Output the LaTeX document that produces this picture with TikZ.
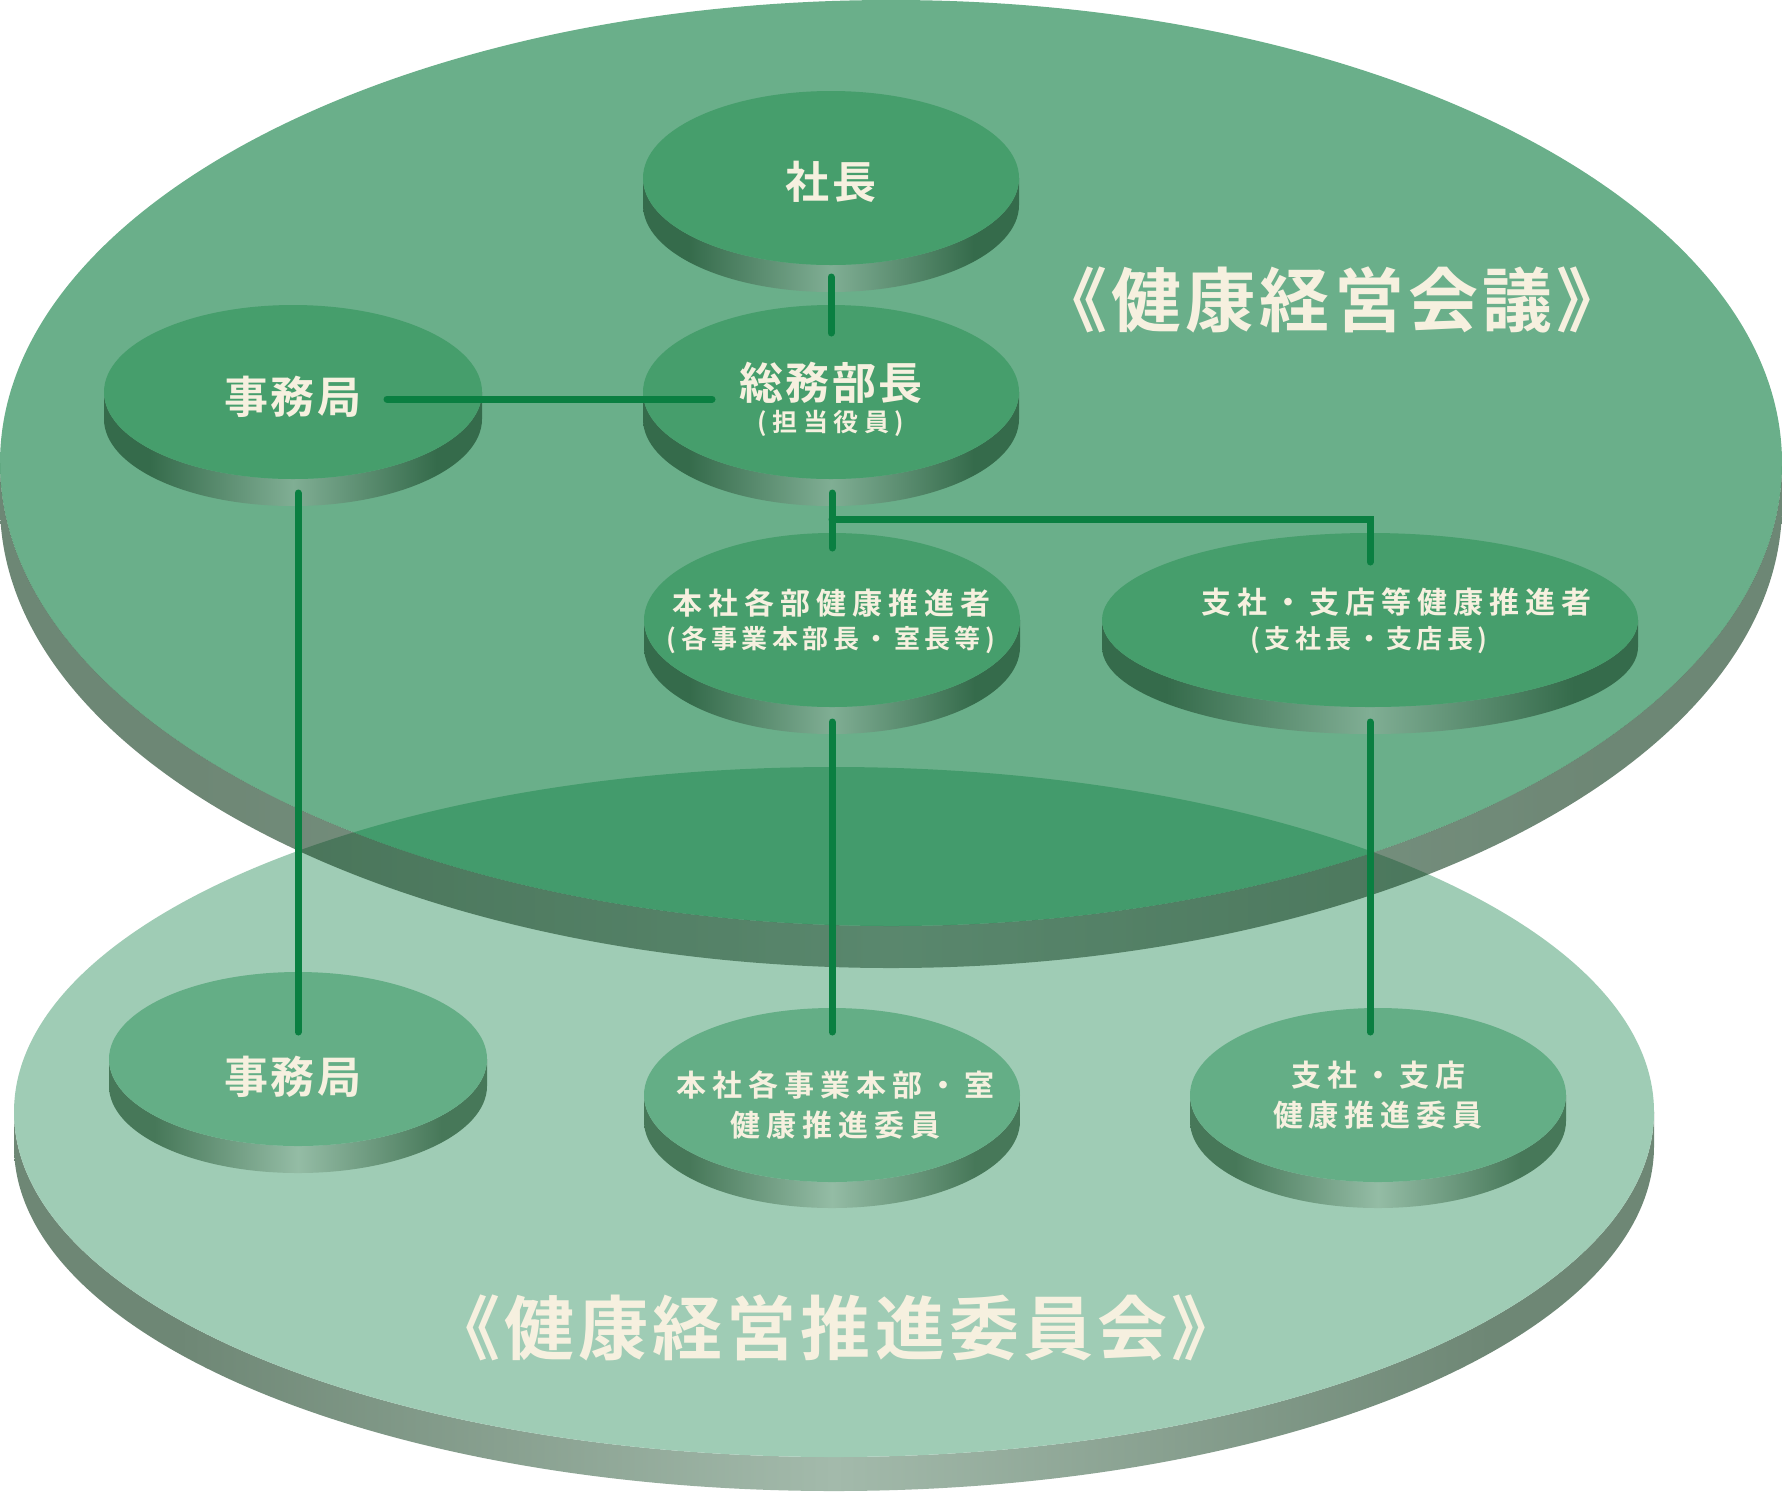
\documentclass[tikz,border=0pt]{standalone}
\usepackage{tikz}
\usepackage{fontspec}
\newfontfamily\jpbig{Noto Sans CJK JP Bold}[LetterSpace=5]
\newfontfamily\jpmid{Noto Sans CJK JP Bold}[LetterSpace=20]
\newfontfamily\jpsub{Noto Sans CJK JP Bold}[LetterSpace=22]
\newfontfamily\jpsmall{Noto Sans CJK JP Bold}[LetterSpace=17]
\newfontfamily\jptitle{Noto Sans CJK JP Bold}[LetterSpace=6]

\definecolor{cream}{HTML}{F6F0DF}
\definecolor{linegreen}{HTML}{0A7F41}
\definecolor{upface}{HTML}{469E6C}
\definecolor{upsidedark}{HTML}{356B4B}
\definecolor{upsidelight}{HTML}{80AE94}
\definecolor{loface}{HTML}{64AE86}
\definecolor{losidedark}{HTML}{477859}
\definecolor{losidelight}{HTML}{94BCA5}
\definecolor{topface}{HTML}{077B3C}
\definecolor{topsidedark}{HTML}{0D3719}
\definecolor{topsidelight}{HTML}{2C5A3E}
\definecolor{baseface}{HTML}{9FCCB5}
\definecolor{basesidedark}{HTML}{6E8775}
\definecolor{basesidelight}{HTML}{A3BAAB}

\pgfdeclarehorizontalshading{upside}{100bp}{color(0bp)=(upsidedark); color(31bp)=(upsidedark); color(50bp)=(upsidelight); color(69bp)=(upsidedark); color(100bp)=(upsidedark)}
\pgfdeclarehorizontalshading{loside}{100bp}{color(0bp)=(losidedark); color(31bp)=(losidedark); color(50bp)=(losidelight); color(69bp)=(losidedark); color(100bp)=(losidedark)}
\pgfdeclarehorizontalshading{topside}{100bp}{color(0bp)=(topsidedark); color(30bp)=(topsidedark); color(50bp)=(topsidelight); color(70bp)=(topsidedark); color(100bp)=(topsidedark)}
\pgfdeclarehorizontalshading{baseside}{100bp}{color(0bp)=(basesidedark); color(30bp)=(basesidedark); color(50bp)=(basesidelight); color(70bp)=(basesidedark); color(100bp)=(basesidedark)}

% #1 kind, #2 cx, #3 cy, #4 rx, #5 ry, #6 depth
\newcommand{\drawdisc}[6]{%
  \shade[#1 side] (#2-#4,#3) -- (#2-#4,#3+#6)
    arc[start angle=180, end angle=0, x radius=#4, y radius=#5]
    -- (#2+#4,#3)
    arc[start angle=0, end angle=180, x radius=#4, y radius=#5] -- cycle;
  \fill[#1 face] (#2,#3) ellipse[x radius=#4, y radius=#5];
}

\begin{document}
\begin{tikzpicture}[x=0.5pt, y=-0.5pt,
    base side/.style={shading=baseside},
    base face/.style={fill=baseface},
    top side/.style={shading=topside, fill opacity=0.6},
    top face/.style={fill=topface, fill opacity=0.6},
    upper side/.style={shading=upside},
    upper face/.style={fill=upface},
    lower side/.style={shading=loside},
    lower face/.style={fill=loface},
    lblbig/.style={text=cream, inner sep=0pt, font=\jpbig\fontsize{22}{26}\selectfont},
    lblmid/.style={text=cream, inner sep=0pt, align=center, font=\jpmid\fontsize{15}{20}\selectfont},
    lblsub/.style={text=cream, inner sep=0pt, font=\jpsub\fontsize{12.5}{14}\selectfont},
    lblsmall/.style={text=cream, inner sep=0pt, font=\jpsmall\fontsize{13}{16}\selectfont},
    headline/.style={text=cream, inner sep=0pt, font=\jptitle\fontsize{35}{40}\selectfont},
    joinline/.style={draw=linegreen, line width=3.5pt, line cap=round}]

  \fill[white] (0,0) rectangle (1782,1495);
  \useasboundingbox (0,0) rectangle (1782,1495);

  % Plates
  \drawdisc{base}{834}{1112}{820}{345}{34}
  \drawdisc{lower}{298}{1059}{189}{87}{27}
  \drawdisc{lower}{832}{1095}{188}{87}{26}
  \drawdisc{lower}{1378}{1095}{188}{87}{26}
  \drawdisc{top}{891}{463}{891}{463}{42}

  % Discs
  \drawdisc{upper}{831}{178}{188}{87}{27}
  \drawdisc{upper}{831}{392}{188}{87}{27}
  \drawdisc{upper}{293}{392}{189}{87}{27}
  \drawdisc{upper}{832}{620}{188}{87}{27}
  \drawdisc{upper}{1370}{620}{268}{87}{27}

  % Line ends
  \coordinate (shacho-foot) at (831,277);
  \coordinate (somu-head) at (831,333);
  \coordinate (somu-side) at (712,399);
  \coordinate (jimu-side) at (387,399);
  \coordinate (somu-foot) at (832,493);
  \coordinate (fork) at (832,519);
  \coordinate (honsha-head) at (832,548);
  \coordinate (shisha-head) at (1370,562);
  \coordinate (jimu-foot) at (298,493);
  \coordinate (jimu2-head) at (298,1032);
  \coordinate (honsha-foot) at (832,722);
  \coordinate (honsha2-head) at (832,1032);
  \coordinate (shisha-foot) at (1370,722);
  \coordinate (shisha2-head) at (1370,1032);

  % Links
  \draw[joinline] (shacho-foot) -- (somu-head);
  \draw[joinline] (jimu-side) -- (somu-side);
  \draw[joinline] (somu-foot) -- (honsha-head);
  \draw[joinline] (fork) -| (shisha-head);
  \draw[joinline] (jimu-foot) -- (jimu2-head);
  \draw[joinline] (honsha-foot) -- (honsha2-head);
  \draw[joinline] (shisha-foot) -- (shisha2-head);

  % Labels
  \node[headline] (kaigi) at (1332,300) {《健康経営会議》};
  \node[headline] (iinkai) at (836,1328) {《健康経営推進委員会》};
  \node[lblbig] (shacho) at (831,182) {社長};
  \node[lblbig] (somu) at (831,383) {総務部長};
  \node[lblsub] (somu-sub) at (831,423) {(担当役員)};
  \node[lblbig] (jimu) at (293,397) {事務局};
  \node[lblmid] (honsha) at (831,603) {本社各部健康推進者};
  \node[lblsmall] (honsha-sub) at (831,640) {(各事業本部長・室長等)};
  \node[lblmid] (shisha) at (1396,602) {支社・支店等健康推進者};
  \node[lblsmall] (shisha-sub) at (1369,640) {(支社長・支店長)};
  \node[lblbig] (jimu2) at (293,1077) {事務局};
  \node[lblmid] (honsha2) at (835,1105) {本社各事業本部・室\\健康推進委員};
  \node[lblmid] (shisha2) at (1378,1095) {支社・支店\\健康推進委員};
\end{tikzpicture}
\end{document}
